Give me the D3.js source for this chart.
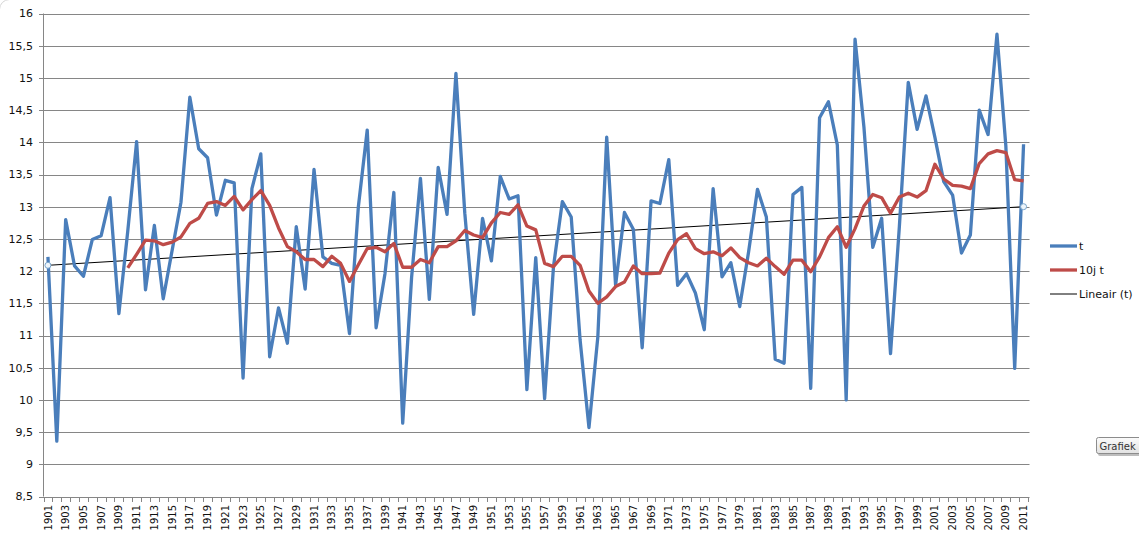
<!DOCTYPE html>
<html lang="nl">
  <head>
    <meta charset="UTF-8" />
    <title>t, 10j t, Lineair (t)</title>
    <script src="https://d3js.org/d3.v7.min.js"></script>
    <style>
      body {
        margin: 0;
        background: #fff;
        overflow: hidden;
      }
      svg {
        display: block;
        font-family: "DejaVu Sans", sans-serif;
      }
    </style>
  </head>
  <body>
    <svg id="chart" width="1139" height="536"></svg>
    <script>
      // categories
      const years = d3.range(1901, 2012);

      // series "t" (one value per year, 1901-2011)
      const temps = [
        12.22, 9.36, 12.8, 12.08, 11.92, 12.49, 12.55, 13.14, 11.34, 12.62,
        14.01, 11.71, 12.71, 11.57, 12.32, 13.07, 14.7, 13.9, 13.76, 12.87,
        13.41, 13.37, 10.34, 13.28, 13.82, 10.67, 11.43, 10.88, 12.69, 11.72,
        13.58, 12.22, 12.12, 12.09, 11.03, 13.0, 14.19, 11.12, 11.96, 13.22,
        9.64, 11.9, 13.44, 11.56, 13.61, 12.88, 15.07, 12.9, 11.33, 12.82,
        12.16, 13.47, 13.12, 13.17, 10.16, 12.21, 10.02, 12.07, 13.08, 12.84,
        10.93, 9.57, 10.98, 14.08, 11.78, 12.91, 12.65, 10.81, 13.09, 13.05,
        13.73, 11.78, 11.96, 11.66, 11.09, 13.28, 11.91, 12.13, 11.45, 12.3,
        13.27, 12.84, 10.63, 10.57, 13.19, 13.3, 10.18, 14.38, 14.63, 13.96,
        10.0, 15.6, 14.24, 12.37, 12.82, 10.72, 12.7, 14.93, 14.2, 14.72,
        14.08, 13.39, 13.18, 12.28, 12.56, 14.5, 14.12, 15.68, 13.95, 10.49,
        13.97,
      ];

      // series "10j t" (starts in 1910)
      const maStart = 1910;
      const movingAvg = [
        12.05, 12.26, 12.48, 12.47, 12.41, 12.45, 12.53, 12.74, 12.82, 13.05,
        13.08, 13.02, 13.16, 12.95, 13.11, 13.25, 13.02, 12.67, 12.38, 12.3,
        12.18, 12.18, 12.07, 12.23, 12.12, 11.84, 12.1, 12.35, 12.37, 12.3,
        12.43, 12.06, 12.06, 12.18, 12.13, 12.38, 12.38, 12.47, 12.63, 12.56,
        12.52, 12.75, 12.91, 12.88, 13.03, 12.7, 12.64, 12.12, 12.07, 12.23,
        12.23, 12.09, 11.69, 11.5, 11.6, 11.76, 11.83, 12.08, 11.96, 11.96,
        11.97, 12.28, 12.49, 12.58, 12.35, 12.27, 12.3, 12.24, 12.36, 12.21,
        12.13, 12.08, 12.2, 12.07, 11.95, 12.17, 12.17, 11.99, 12.22, 12.52,
        12.69, 12.37, 12.66, 13.01, 13.19, 13.14, 12.9, 13.15, 13.21, 13.15,
        13.25, 13.66, 13.43, 13.33, 13.32, 13.28, 13.67, 13.82, 13.87, 13.84,
        13.42, 13.4,
      ];

      // "Lineair (t)" trend line end points
      const trendYears = [1901, 2011];
      const trendValues = [12.09, 13.0];

      const yTicks = d3.range(8.5, 16.01, 0.5);
      const xTickLabels = years.filter((y) => (y - 1901) % 2 === 0);

      const legendNames = ["t", "10j t", "Lineair (t)"];
      const legendColors = ["#4a7ebb", "#be4b48", "#000"];

      const svg = d3.select("#chart");

      const x = d3.scalePoint().domain(years).range([43.5, 1028]).padding(0.5);
      const y = d3.scaleLinear().domain([8.5, 16]).range([496.5, 13.5]);
      const step = x.step();
      const fmt = (v) => String(v).replace(".", ",");

      // faint chart-area corner
      svg
        .append("rect")
        .attr("x", -0.5)
        .attr("y", -0.5)
        .attr("width", 1300)
        .attr("height", 700)
        .attr("rx", 10)
        .attr("fill", "none")
        .attr("stroke", "#d4d4d4");

      // gridlines
      svg
        .append("g")
        .selectAll("line")
        .data(yTicks)
        .join("line")
        .attr("x1", 39)
        .attr("x2", 1029.5)
        .attr("y1", (d) => Math.round(y(d)) + 0.5)
        .attr("y2", (d) => Math.round(y(d)) + 0.5)
        .attr("stroke", "#868686")
        .attr("stroke-width", 1);

      // y axis line
      svg
        .append("line")
        .attr("x1", 43.5)
        .attr("x2", 43.5)
        .attr("y1", y(16))
        .attr("y2", y(8.5))
        .attr("stroke", "#868686");

      // y labels
      svg
        .append("g")
        .selectAll("text")
        .data(yTicks)
        .join("text")
        .attr("x", 33)
        .attr("y", (d) => y(d))
        .attr("dy", "0.36em")
        .attr("text-anchor", "end")
        .attr("font-size", 11)
        .attr("fill", "#111")
        .text(fmt);

      // x tick marks at category boundaries
      const bounds = d3.range(years.length + 1).map((i) => 43.5 + i * step);
      svg
        .append("g")
        .selectAll("line")
        .data(bounds)
        .join("line")
        .attr("x1", (d) => Math.round(d) + 0.5)
        .attr("x2", (d) => Math.round(d) + 0.5)
        .attr("y1", 497)
        .attr("y2", 502)
        .attr("stroke", "#868686");

      // x labels (rotated)
      svg
        .append("g")
        .selectAll("text")
        .data(xTickLabels)
        .join("text")
        .attr("transform", (d) => `translate(${x(d)},505) rotate(-90)`)
        .attr("text-anchor", "end")
        .attr("dy", "0.36em")
        .attr("font-size", 10)
        .attr("fill", "#111")
        .text((d) => d);

      // trend line
      const trend = trendYears.map((yr, i) => ({ year: yr, v: trendValues[i] }));
      svg
        .append("path")
        .datum(trend)
        .attr("fill", "none")
        .attr("stroke", "#000")
        .attr("stroke-width", 1)
        .attr("d", d3.line().x((d) => x(d.year)).y((d) => y(d.v)));

      // series t
      const tData = years.map((yr, i) => ({ year: yr, v: temps[i] }));
      svg
        .append("path")
        .datum(tData)
        .attr("fill", "none")
        .attr("stroke", legendColors[0])
        .attr("stroke-width", 3.3)
        .attr("stroke-linejoin", "round")
        .attr("d", d3.line().x((d) => x(d.year)).y((d) => y(d.v)));

      // series 10j t
      const maData = movingAvg.map((v, i) => ({ year: maStart + i, v: v }));
      svg
        .append("path")
        .datum(maData)
        .attr("fill", "none")
        .attr("stroke", legendColors[1])
        .attr("stroke-width", 3.3)
        .attr("stroke-linejoin", "round")
        .attr("d", d3.line().x((d) => x(d.year)).y((d) => y(d.v)));

      // trend handles
      svg
        .append("g")
        .selectAll("circle")
        .data(trend)
        .join("circle")
        .attr("cx", (d) => x(d.year))
        .attr("cy", (d) => y(d.v))
        .attr("r", 3)
        .attr("fill", "#eef5fb")
        .attr("stroke", "#7aa6cc")
        .attr("stroke-width", 1);

      // legend
      const legend = svg
        .append("g")
        .selectAll("g")
        .data(legendNames)
        .join("g")
        .attr("transform", (d, i) => `translate(1050,${246 + i * 24})`);
      legend
        .append("line")
        .attr("x1", 0)
        .attr("x2", 27)
        .attr("stroke", (d, i) => legendColors[i])
        .attr("stroke-width", (d, i) => (i < 2 ? 3.3 : 1));
      legend
        .append("text")
        .attr("x", 29)
        .attr("dy", "0.36em")
        .attr("font-size", 11)
        .attr("fill", "#111")
        .text((d) => d);

      // "Grafiek" tooltip box
      const defs = svg.append("defs");
      const grad = defs
        .append("linearGradient")
        .attr("id", "btn")
        .attr("x1", 0)
        .attr("y1", 0)
        .attr("x2", 0)
        .attr("y2", 1);
      grad.append("stop").attr("offset", "0%").attr("stop-color", "#fbfbfb");
      grad.append("stop").attr("offset", "100%").attr("stop-color", "#e2e2e2");
      svg
        .append("rect")
        .attr("x", 1098)
        .attr("y", 439)
        .attr("width", 60)
        .attr("height", 17)
        .attr("rx", 2)
        .attr("fill", "#bdbdbd");
      svg
        .append("rect")
        .attr("x", 1096.5)
        .attr("y", 437.5)
        .attr("width", 60)
        .attr("height", 16)
        .attr("rx", 2)
        .attr("fill", "url(#btn)")
        .attr("stroke", "#8c8c8c");
      svg
        .append("text")
        .attr("x", 1099.5)
        .attr("y", 446)
        .attr("dy", "0.36em")
        .attr("font-size", 10)
        .attr("fill", "#333")
        .text("Grafiek");
    </script>
  </body>
</html>
